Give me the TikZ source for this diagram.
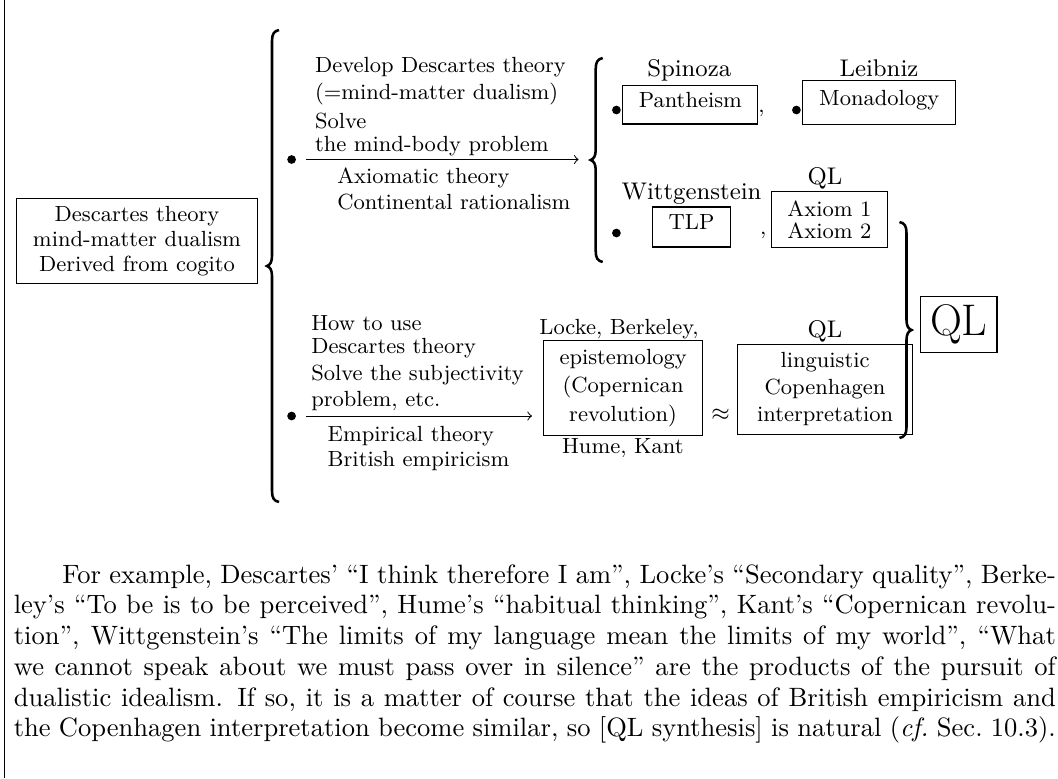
\documentclass[tikz,border=0pt]{standalone}
\usetikzlibrary{arrows}
\def\dfont{\fontsize{8.55}{10}\selectfont}
\def\nfont{\fontsize{9.4}{11}\selectfont}
% curly brace: stem x, top y, bottom y, side (1 opens right, -1 opens left)
\def\curly#1#2#3#4{\draw[brc] ({#1+7*#4},#2) .. controls ({#1+2*#4},{#2+1}) and (#1,{#2+4}) .. (#1,{#2+11}) -- (#1,{(#2+#3)/2-10}) .. controls (#1,{(#2+#3)/2-4}) and ({#1-2*#4},{(#2+#3)/2-1}) .. ({#1-5*#4},{(#2+#3)/2}) .. controls ({#1-2*#4},{(#2+#3)/2+1}) and (#1,{(#2+#3)/2+4}) .. (#1,{(#2+#3)/2+10}) -- (#1,{#3-11}) .. controls (#1,{#3-4}) and ({#1+2*#4},{#3-1}) .. ({#1+7*#4},#3);}
\tikzset{
	tbox/.style={draw, inner sep=0pt, align=center},
	sbox/.style={tbox, text height=6.2pt, text depth=4pt, font=\dfont},
	dot/.style={circle, fill, inner sep=0pt, minimum size=3.4pt},
	lbl/.style={anchor=base west, inner sep=0pt, font=\dfont},
	who/.style={anchor=base, inner sep=0pt, font=\nfont},
	arr/.style={->, shorten <=3.9pt},
	brc/.style={line width=1pt},
}
\begin{document}
\begin{tikzpicture}[x=0.39pt, y=-0.39pt]
			%%%%% START %%%%%
			\useasboundingbox (0,0) rectangle (1058,778);
			\draw (4.3,0) -- (4.3,778);
			
			\node[tbox, minimum width=94pt, minimum height=33.5pt, font=\fontsize{8.55}{9.75}\selectfont] (desc) at (137,241) {Descartes theory\\mind-matter dualism\\Derived from cogito};
			\curly{272}{30}{502}{1}
			
			%% upper branch
			\node[dot] (dotU) at (291.6,159.5) {};
			\coordinate (endU) at (578.6,159.5);
			\draw[arr] (dotU) -- (endU);
			\node[lbl] (u1) at (314.6,72) {Develop Descartes theory};
			\node[lbl] (u2) at (314.6,99.5) {(=mind-matter dualism)};
			\node[lbl] (u3) at (314.6,128) {Solve};
			\node[lbl] (u4) at (314.6,151) {the mind-body problem};
			\node[lbl] (u5) at (336.8,183) {Axiomatic theory};
			\node[lbl] (u6) at (336.8,209) {Continental rationalism};
			
			\curly{595.7}{58}{262}{1}
			
			\node[dot] (dotS) at (616.4,110) {};
			\node[sbox, minimum width=52.7pt, minimum height=15.2pt] (pan) at (690.4,104.5) {Pantheism};
			\node[who] (spi) at (689.3,76) {Spinoza};
			\node[anchor=base, inner sep=0pt, font=\dfont] (cm1) at (761.6,112) {,};
			
			\node[dot] (dotL) at (796.4,110) {};
			\node[sbox, minimum width=59.6pt, minimum height=16.8pt] (mon) at (879.2,102.5) {Monadology};
			\node[who] (lei) at (879,76) {Leibniz};
			
			\node[dot] (dotW) at (616.4,233) {};
			\node[sbox, minimum width=30.5pt, minimum height=15.6pt] (tlp) at (691.5,227) {TLP};
			\node[who] (wit) at (691.5,199.3) {Wittgenstein};
			\node[anchor=base, inner sep=0pt, font=\dfont] (cm2) at (763.3,234) {,};
			\node[tbox, minimum width=45.1pt, minimum height=21.5pt, font=\fontsize{8.55}{8.5}\selectfont] (axi) at (829.4,219.5) {Axiom 1\\Axiom 2};
			\node[who] (qlA) at (825,184.3) {QL};
			
			%% lower branch
			\node[dot] (dotE) at (291.6,416) {};
			\coordinate (endE) at (532,416);
			\draw[arr] (dotE) -- (endE);
			\node[lbl] (l1) at (310.8,330) {How to use};
			\node[lbl] (l2) at (310.8,353.3) {Descartes theory};
			\node[lbl] (l3) at (310.8,380) {Solve the subjectivity};
			\node[lbl] (l4) at (310.8,406.7) {problem, etc.};
			\node[lbl] (l5) at (327.2,441.7) {Empirical theory};
			\node[lbl] (l6) at (327.2,466.7) {British empiricism};
			
			\node[tbox, minimum width=62.2pt, minimum height=36.7pt, font=\fontsize{8.55}{11}\selectfont] (epi) at (623.1,388) {epistemology\\(Copernican\\revolution)};
			\node[anchor=base, inner sep=0pt, font=\dfont] (lok) at (619,334) {Locke, Berkeley,};
			\node[anchor=base, inner sep=0pt, font=\dfont] (hum) at (622.8,453.3) {Hume, Kant};
			\node[inner sep=0pt, font=\dfont] (apx) at (720.6,415) {$\approx$};
			\node[tbox, minimum width=68.4pt, minimum height=35.1pt, font=\fontsize{8.55}{10.45}\selectfont] (lin) at (825.1,389) {linguistic\\Copenhagen\\interpretation};
			\node[who] (qlB) at (825,337.3) {QL};
			
			\curly{906.5}{222}{438}{-1}
			\node[tbox, minimum width=29.8pt, minimum height=22.2pt, font=\fontsize{17.28}{20}\selectfont] (ql) at (958.8,324.5) {QL};
			
			%% text below
			\node[anchor=base west, inner sep=0pt, text width=406.4pt, align=justify, font=\fontsize{10.35}{12}\selectfont] (txt) at (13.3,583) {\hspace*{18.9pt}For example, Descartes’ “I think therefore I am”, Locke’s “Secondary quality”, Berke-\linebreak ley’s “To be is to be perceived”, Hume’s “habitual thinking”, Kant’s “Copernican revolu-\linebreak tion”, Wittgenstein’s “The limits of my language mean the limits of my world”, “What\linebreak we cannot speak about we must pass over in silence” are the products of the pursuit of\linebreak dualistic idealism. If so, it is a matter of course that the ideas of British empiricism and\linebreak the Copenhagen interpretation become similar, so [QL synthesis] is natural (\emph{cf.}\ Sec.~10.3).};
			%%%%% END %%%%%
\end{tikzpicture}
\end{document}
